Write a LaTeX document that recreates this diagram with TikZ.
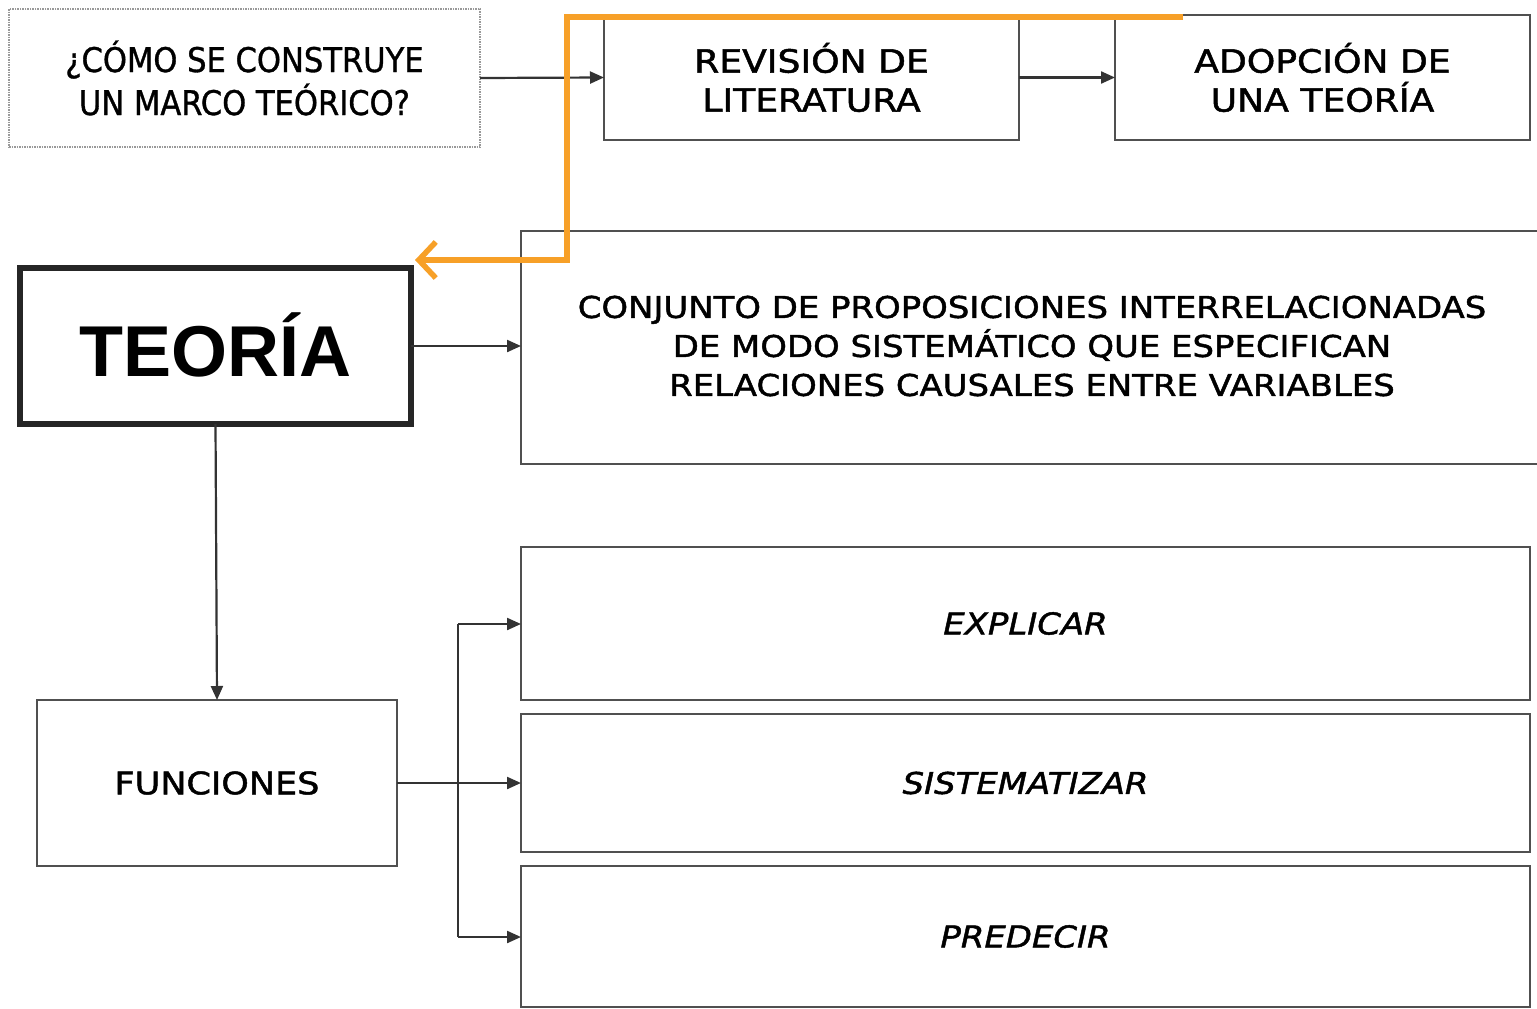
\documentclass[tikz,border=0pt]{standalone}
\usepackage{fontspec}
\setmainfont{DejaVu Sans}
\newfontfamily\qfont[FakeBold=1]{DejaVu Sans Condensed}
\newfontfamily\cfont[FakeStretch=1.13,FakeBold=1.5]{DejaVu Sans}
\newfontfamily\tfont{Liberation Sans}
\usetikzlibrary{arrows.meta}
\definecolor{edge}{HTML}{505050}
\definecolor{orng}{HTML}{F7A028}
\begin{document}
\begin{tikzpicture}[x=1pt,y=-1pt,
  box/.style={draw=edge,line width=2.6pt,fill=white,inner sep=0pt,outer sep=0pt,align=center,text=black},
  qbox/.style={draw=gray!80,densely dotted,line width=1.5pt,fill=white,inner sep=0pt,outer sep=0pt,align=center},
  conn/.style={draw=black!80,line width=2.2pt,-{Triangle[length=14pt,width=12pt]}},
  plain/.style={draw=black!80,line width=2.2pt},
  orange/.style={draw=orng,line width=5.5pt,line join=miter,-{Straight Barb[length=17pt,width=36pt,line width=5.5pt]}},
  ctext/.style={font={\cfont\fontsize{32}{39}\selectfont}},
  itext/.style={font={\cfont\itshape\fontsize{30}{38}\selectfont}}]
\useasboundingbox (0,0) rectangle (1537,1009);
\fill[white] (0,0) rectangle (1537,1009);

\node[qbox,minimum width=471pt,minimum height=138pt,font={\qfont\fontsize{34}{43}\selectfont}] (q) at (244.5,78)
  {¿CÓMO SE CONSTRUYE\\UN MARCO TEÓRICO?};
\node[box,ctext,minimum width=415pt,minimum height=125pt] (rev) at (811.5,77.5)
  {REVISIÓN DE\\LITERATURA};
\node[box,ctext,minimum width=415pt,minimum height=125pt] (adop) at (1322.5,77.5)
  {ADOPCIÓN DE\\UNA TEORÍA};

\node[box,line width=5.5pt,draw=black!85,minimum width=391pt,minimum height=156pt,font={\tfont\bfseries\fontsize{72}{80}\selectfont}] (teo) at (215.5,346)
  {\raisebox{3pt}{TEORÍA}};
\node[box,minimum width=1024pt,minimum height=233pt,anchor=west] (conj) at (521,347.5) {};
\node[align=center,inner sep=0pt,font={\cfont\fontsize{30}{39}\selectfont}] (conjt) at (1032,346)
  {CONJUNTO DE PROPOSICIONES INTERRELACIONADAS\\DE MODO SISTEMÁTICO QUE ESPECIFICAN\\RELACIONES CAUSALES ENTRE VARIABLES};

\node[box,minimum width=360pt,minimum height=166pt,font={\cfont\fontsize{31}{38}\selectfont}] (fun) at (217,783)
  {FUNCIONES};
\node[box,itext,minimum width=1009pt,minimum height=153pt] (exp) at (1025.5,623.5) {EXPLICAR};
\node[box,itext,minimum width=1009pt,minimum height=138pt] (sis) at (1025.5,783) {SISTEMATIZAR};
\node[box,itext,minimum width=1009pt,minimum height=141pt] (pre) at (1025.5,936.5) {PREDECIR};

% connectors
\draw[conn] (q.east) -- (rev.west);
\draw[conn] (rev.east) -- (adop.west);
\draw[conn] (teo.east) -- (teo.east -| conj.west);
\draw[conn] (teo.south) -- (fun.north);
\draw[conn] (fun.east) -- (sis.west);
\draw[plain] (458,624) -- (458,937);
\draw[conn] (458,624) -- (exp.west |- 0,624);
\draw[conn] (458,937) -- (pre.west |- 0,937);

% orange highlight
\coordinate (os) at (1183,17);
\coordinate (oc) at (567,17);
\coordinate (oe) at (415,260);
\draw[orange] (os) -- (oc) |- (oe);
\end{tikzpicture}
\end{document}
